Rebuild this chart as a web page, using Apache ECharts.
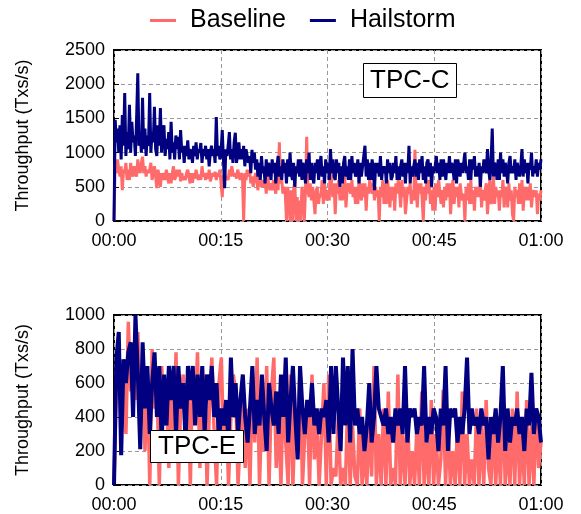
<!DOCTYPE html>
<html>
<head>
<meta charset="utf-8">
<script src="https://cdn.jsdelivr.net/npm/echarts@6/dist/echarts.min.js"></script>
<style>
  html, body { margin: 0; padding: 0; background: #fff; }
  #chart { width: 581px; height: 514px; }
</style>
</head>
<body>
<div id="chart"></div>
<script>
// tick labels / series names
const xTicks = ['00:00', '00:15', '00:30', '00:45', '01:00']
const seriesNames = ['Baseline', 'Hailstorm']

// TPC-C, 6 samples per minute (one row = one minute)
const tpccBaseline = [
  0, 850, 700, 900, 750, 650,
  800, 450, 750, 700, 850, 600,
  750, 600, 850, 700, 650, 800,
  800, 650, 900, 750, 700, 850,
  940, 700, 800, 650, 750, 700,
  750, 850, 600, 700, 800, 650,
  480, 750, 650, 500, 700, 600,
  700, 600, 750, 650, 550, 700,
  550, 700, 800, 600, 650, 750,
  650, 750, 580, 700, 600, 650,
  600, 700, 750, 650, 550, 700,
  560, 700, 620, 750, 650, 600,
  680, 600, 800, 650, 700, 600,
  700, 620, 750, 580, 650, 700,
  650, 720, 600, 700, 650, 750,
  550, 350, 650, 700, 600, 650,
  600, 750, 650, 800, 700, 650,
  700, 620, 750, 680, 600, 700,
  650, 0, 700, 600, 750, 650,
  750, 550, 650, 500, 600, 700,
  600, 450, 650, 550, 500, 600,
  500, 600, 400, 650, 550, 450,
  550, 450, 600, 500, 400, 600,
  450, 1150, 550, 600, 400, 500,
  400, 0, 500, 350, 0, 450,
  0, 450, 600, 0, 350, 0,
  300, 0, 500, 400, 0, 450,
  1230, 450, 350, 550, 300, 500,
  300, 100, 450, 500, 250, 400,
  350, 600, 250, 550, 400, 300,
  450, 300, 1000, 500, 350, 550,
  100, 550, 400, 600, 300, 500,
  300, 500, 650, 200, 450, 550,
  550, 400, 600, 350, 500, 250,
  500, 250, 600, 450, 300, 550,
  350, 550, 150, 500, 400, 600,
  600, 400, 550, 300, 500, 350,
  450, 0, 500, 350, 600, 250,
  550, 250, 600, 400, 200, 500,
  300, 500, 150, 550, 400, 600,
  450, 200, 600, 350, 500, 100,
  100, 500, 400, 550, 250, 450,
  300, 1040, 450, 200, 550, 400,
  550, 350, 0, 500, 300, 600,
  400, 600, 250, 450, 150, 500,
  150, 550, 350, 600, 400, 250,
  450, 200, 500, 300, 550, 350,
  550, 100, 450, 600, 250, 500,
  350, 500, 200, 550, 400, 300,
  400, 0, 500, 300, 550, 250,
  600, 250, 450, 150, 500, 350,
  500, 350, 600, 200, 450, 300,
  450, 550, 100, 400, 600, 250,
  300, 650, 250, 500, 350, 450,
  150, 450, 350, 600, 200, 500,
  400, 200, 550, 300, 450, 100,
  0, 500, 350, 450, 250, 550,
  250, 600, 150, 400, 500, 300,
  500, 300, 550, 200, 400, 450,
  350, 450, 100, 400, 300, 450
]
const tpccHailstorm = [
  0, 1480, 1150, 1350, 1000, 1400,
  900, 1550, 1100, 1870, 950, 1300,
  1050, 1700, 1000, 1450, 1150, 1250,
  950, 1500, 2160, 1100, 1300, 1000,
  1800, 1050, 1350, 950, 1250, 1100,
  1870, 1000, 1300, 1150, 1670, 1050,
  950, 1400, 1100, 1650, 1000, 1300,
  1400, 950, 1200, 1050, 1300, 900,
  1450, 1000, 1150, 900, 1250, 1050,
  1230, 900, 1330, 1000, 1100, 850,
  1100, 950, 1180, 900, 1050, 1000,
  850, 1100, 950, 1150, 900, 1050,
  1000, 1140, 850, 1050, 950, 1100,
  900, 1050, 800, 1000, 1100, 950,
  1050, 850, 1520, 950, 1100, 900,
  1000, 1330, 900, 480, 1050, 950,
  1100, 1300, 900, 1050, 850, 1150,
  1290, 850, 1000, 1150, 900, 1050,
  900, 1100, 800, 1050, 950, 850,
  950, 700, 1040, 850, 1000, 750,
  900, 650, 850, 600, 950, 700,
  800, 550, 900, 650, 850, 750,
  600, 900, 700, 850, 550, 800,
  950, 650, 800, 600, 900, 700,
  850, 550, 900, 650, 1000, 700,
  600, 850, 500, 800, 700, 900,
  650, 900, 600, 850, 750, 550,
  900, 700, 1000, 600, 850, 650,
  550, 850, 700, 900, 600, 800,
  950, 650, 800, 550, 900, 700,
  850, 600, 1050, 700, 900, 650,
  600, 900, 700, 850, 500, 800,
  550, 850, 950, 650, 800, 600,
  900, 600, 950, 700, 850, 650,
  700, 900, 550, 850, 650, 800,
  800, 1100, 650, 900, 600, 850,
  600, 900, 750, 450, 850, 700,
  850, 650, 950, 600, 800, 700,
  800, 550, 900, 700, 850, 600,
  650, 850, 700, 950, 600, 800,
  600, 800, 900, 650, 850, 550,
  850, 700, 1100, 550, 800, 650,
  800, 900, 650, 850, 600, 900,
  700, 950, 600, 800, 550, 850,
  900, 650, 850, 500, 800, 700,
  800, 950, 700, 850, 600, 900,
  650, 900, 750, 600, 850, 700,
  950, 700, 850, 750, 600, 900,
  550, 900, 800, 650, 850, 700,
  850, 1000, 700, 800, 600, 900,
  600, 900, 750, 950, 650, 800,
  650, 850, 500, 800, 700, 900,
  900, 700, 1050, 750, 600, 850,
  1350, 650, 850, 800, 600, 900,
  600, 1000, 700, 900, 650, 850,
  750, 550, 850, 950, 700, 800,
  700, 900, 600, 850, 750, 650,
  800, 1050, 650, 900, 700, 850,
  550, 850, 750, 1000, 650, 800,
  700, 900, 650, 850, 750, 900
]

// TPC-E, 3 samples per minute
const tpceBaseline = [
  0, 600, 800, 450, 650, 300, 960, 550, 750, 500, 900, 350, 700, 200, 650,
  0, 800, 450, 600, 0, 700, 350, 550, 100, 650, 300, 780, 0, 500, 650,
  250, 600, 0, 700, 400, 780, 100, 550, 650, 0, 450, 750, 300, 0, 600,
  750, 200, 500, 0, 400, 650, 550, 0, 300, 600, 100, 450, 0, 650, 250,
  750, 0, 450, 200, 700, 0, 550, 750, 100, 400, 0, 600, 250, 0, 650,
  0, 450, 200, 700, 0, 300, 500, 0, 650, 150, 400, 0, 300, 600, 0,
  650, 0, 100, 50, 400, 0, 100, 0, 500, 0, 350, 50, 0, 450, 0,
  200, 0, 400, 50, 700, 0, 300, 0, 450, 0, 550, 0, 100, 0, 650,
  0, 300, 0, 450, 0, 200, 0, 350, 0, 550, 0, 250, 0, 500, 0,
  300, 0, 150, 560, 0, 400, 0, 200, 0, 350, 0, 550, 0, 300, 0,
  150, 0, 450, 0, 350, 0, 500, 100, 0, 400, 0, 300, 0, 550, 0,
  250, 0, 450, 0, 550, 0, 300, 0, 500, 0, 350, 0, 450, 100, 250
]
const tpceHailstorm = [
  0, 740, 900, 175, 740, 600, 780, 840, 400, 1000, 650, 210, 840, 450, 700,
  300, 600, 780, 400, 700, 250, 650, 350, 700, 500, 700, 300, 700, 450, 600,
  250, 700, 500, 700, 350, 650, 400, 700, 300, 650, 500, 700, 400, 600, 250,
  450, 350, 500, 250, 750, 400, 600, 300, 500, 650, 400, 250, 450, 700, 300,
  500, 350, 650, 400, 200, 600, 450, 350, 550, 300, 650, 400, 750, 250, 500,
  700, 400, 150, 700, 450, 300, 500, 400, 600, 350, 450, 300, 450, 400, 500,
  250, 700, 300, 700, 450, 200, 750, 350, 700, 250, 800, 350, 450, 300, 400,
  200, 350, 600, 250, 400, 700, 450, 400, 350, 450, 300, 400, 250, 450, 350,
  450, 300, 700, 250, 450, 400, 450, 300, 400, 350, 700, 250, 400, 300, 450,
  400, 200, 450, 350, 700, 200, 450, 400, 450, 250, 400, 300, 450, 750, 300,
  450, 350, 400, 300, 450, 350, 400, 150, 400, 300, 450, 250, 400, 700, 200,
  450, 250, 400, 350, 450, 300, 400, 200, 450, 350, 660, 300, 450, 400, 250
]

const COLOR_BASE = '#ff6b6b'
const COLOR_HAIL = '#000080'
const FONT = 'Liberation Sans'

// spread samples evenly over 0..60 min
function toPoints(arr) {
  const n = arr.length
  return arr.map((v, i) => [i * 60 / (n - 1), v])
}

function xAxisFor(gridIndex) {
  return {
    gridIndex: gridIndex,
    type: 'value',
    min: 0,
    max: 60,
    interval: 15,
    axisLine: { show: false },
    axisTick: { show: false },
    axisLabel: {
      color: '#000',
      fontSize: 18,
      fontFamily: FONT,
      margin: 11,
      formatter: (v) => xTicks[v / 15]
    },
    splitLine: { show: true, lineStyle: { color: '#999', type: [4, 3] } }
  }
}

function yAxisFor(gridIndex, max, interval) {
  return {
    gridIndex: gridIndex,
    type: 'value',
    min: 0,
    max: max,
    interval: interval,
    name: 'Throughput (Txs/s)',
    nameLocation: 'middle',
    nameGap: 82,
    nameTextStyle: { color: '#000', fontSize: 18, fontFamily: FONT },
    axisLine: { show: false },
    axisTick: { show: true, inside: true, length: 5, lineStyle: { color: '#000' } },
    axisLabel: {
      color: '#000',
      fontSize: 18,
      fontFamily: FONT,
      margin: 9,
      formatter: (v) => String(v)
    },
    splitLine: { show: true, lineStyle: { color: '#999', type: [4, 3] } }
  }
}

function lineSeries(name, data, idx, color, width) {
  return {
    name: name,
    type: 'line',
    xAxisIndex: idx,
    yAxisIndex: idx,
    data: toPoints(data),
    showSymbol: false,
    symbol: 'none',
    lineStyle: { color: color, width: width, join: 'miter', miterLimit: 2 },
    itemStyle: { color: color },
    clip: true
  }
}

const option = {
  animation: false,
  backgroundColor: '#fff',
  textStyle: { fontFamily: FONT },
  legend: {
    data: seriesNames,
    top: 3,
    left: 145,
    icon: 'rect',
    itemWidth: 26,
    itemHeight: 3,
    itemGap: 24,
    textStyle: { color: '#000', fontSize: 25, fontFamily: FONT, padding: [0, 0, 0, 9] }
  },
  title: [
    {
      text: 'TPC-C',
      left: 363,
      top: 63,
      padding: [5, 7, 4, 7],
      borderColor: '#000',
      borderWidth: 1,
      backgroundColor: '#fff',
      textStyle: { color: '#000', fontSize: 26, fontWeight: 'normal', fontFamily: FONT }
    },
    {
      text: 'TPC-E',
      left: 150,
      top: 430,
      padding: [4, 8, 3, 8],
      borderColor: '#000',
      borderWidth: 1,
      backgroundColor: '#fff',
      textStyle: { color: '#000', fontSize: 26, fontWeight: 'normal', fontFamily: FONT }
    }
  ],
  grid: [
    { left: 114, right: 40, top: 50, height: 171, show: true, borderColor: '#000', borderWidth: 2, backgroundColor: 'transparent' },
    { left: 114, right: 40, top: 315, height: 170, show: true, borderColor: '#000', borderWidth: 2, backgroundColor: 'transparent' }
  ],
  xAxis: [xAxisFor(0), xAxisFor(1)],
  yAxis: [yAxisFor(0, 2500, 500), yAxisFor(1, 1000, 200)],
  series: [
    lineSeries(seriesNames[0], tpccBaseline, 0, COLOR_BASE, 3),
    lineSeries(seriesNames[1], tpccHailstorm, 0, COLOR_HAIL, 3),
    lineSeries(seriesNames[0], tpceBaseline, 1, COLOR_BASE, 3.5),
    lineSeries(seriesNames[1], tpceHailstorm, 1, COLOR_HAIL, 4)
  ]
}

const chart = echarts.init(document.getElementById('chart'), null, { renderer: 'canvas' })
chart.setOption(option)
</script>
</body>
</html>
